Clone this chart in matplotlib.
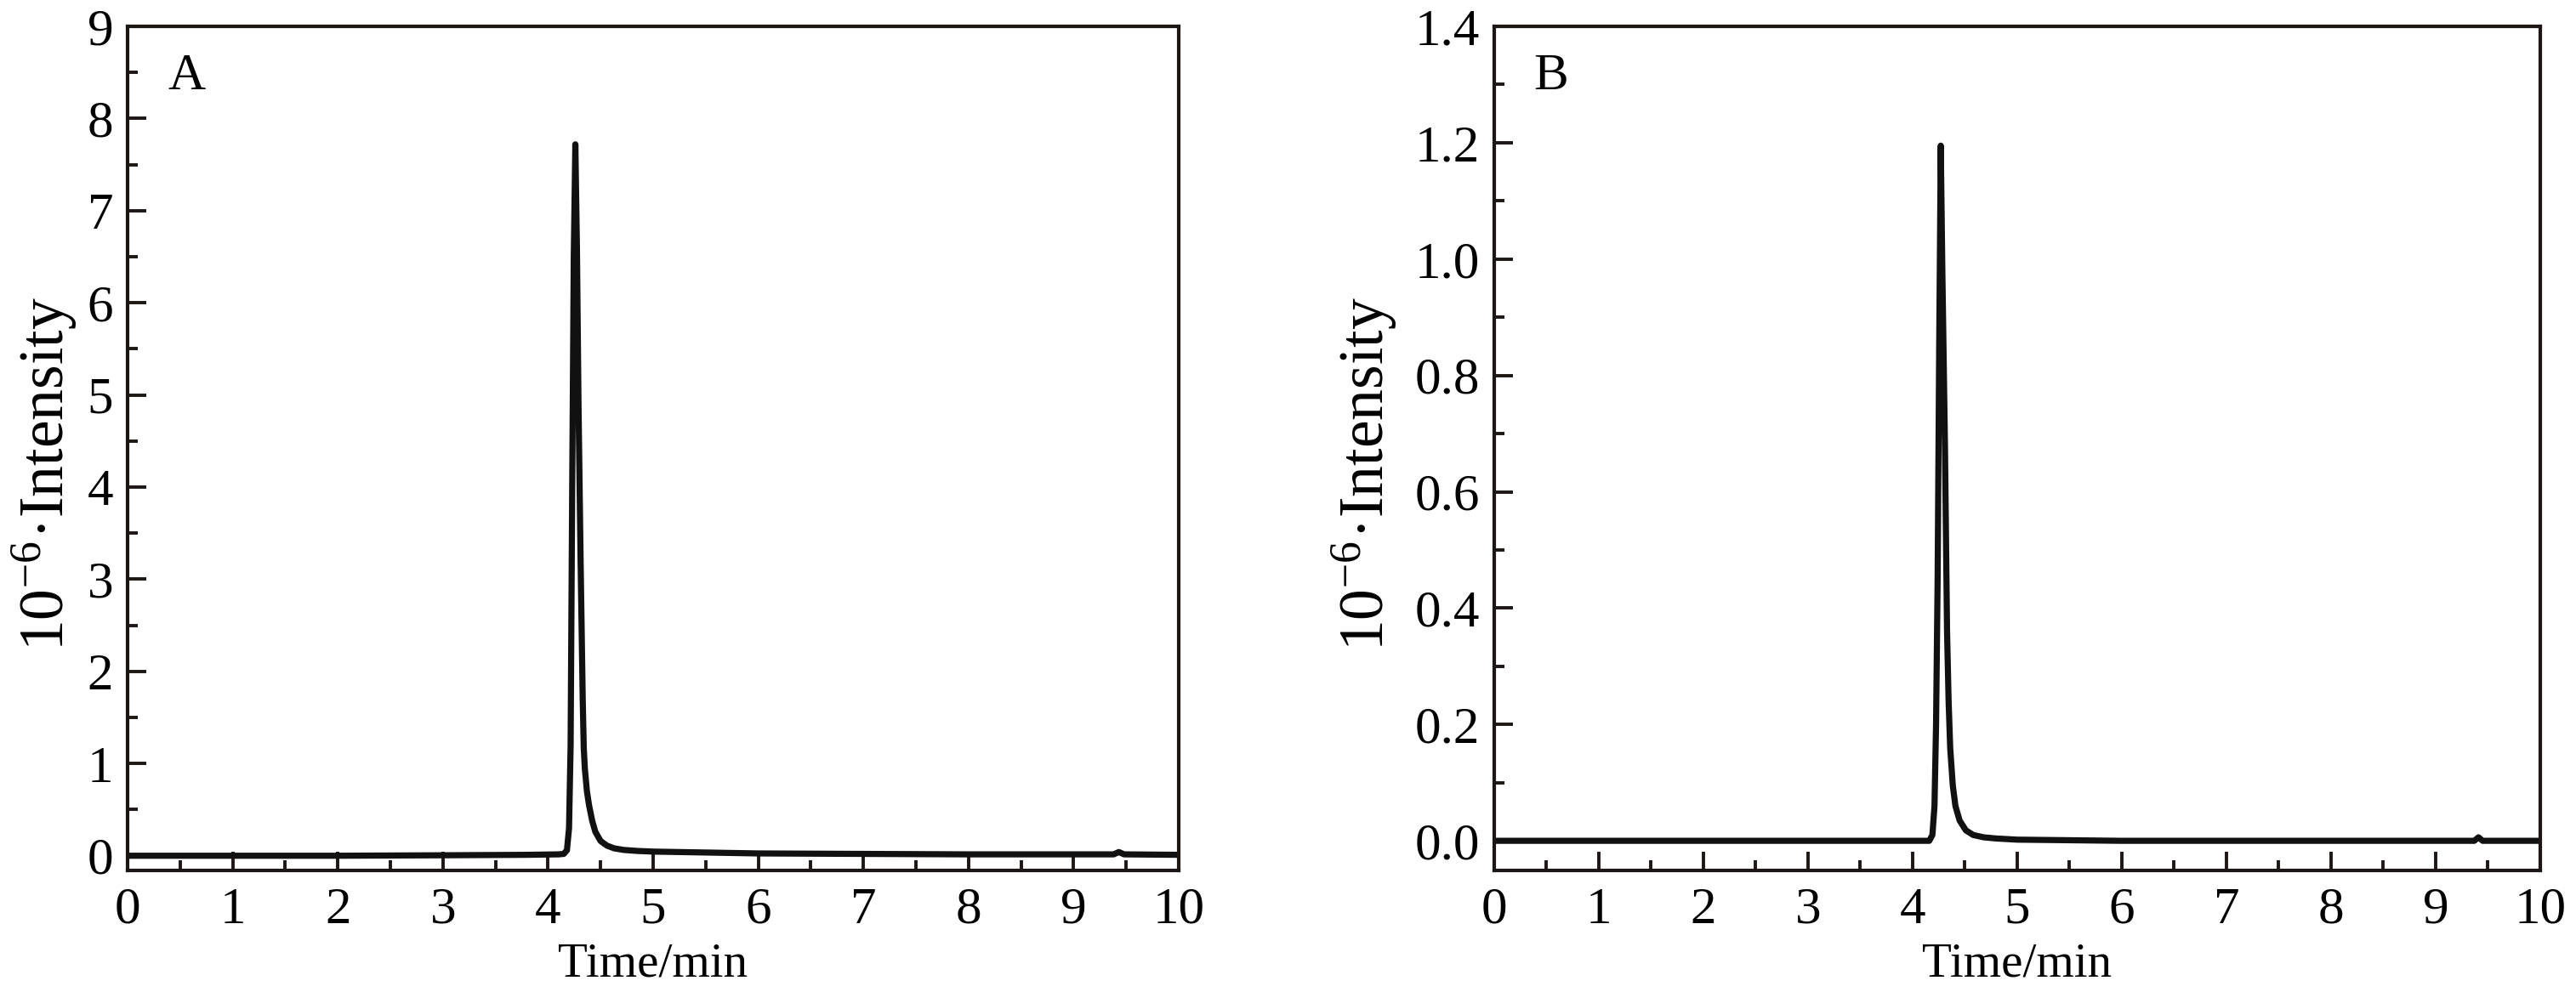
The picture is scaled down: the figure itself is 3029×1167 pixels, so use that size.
import matplotlib
matplotlib.use("Agg")
import matplotlib.pyplot as plt
from matplotlib.ticker import MultipleLocator, FormatStrFormatter

# --- chromatogram values --- #

time_a = [0.0, 1.0, 2.0, 3.0, 3.8, 4.1, 4.15, 4.18, 4.20, 4.215, 4.23, 4.245, 4.26,
          4.275, 4.29, 4.31, 4.33, 4.34, 4.35, 4.37, 4.39, 4.42, 4.45, 4.50, 4.56,
          4.63, 4.72, 4.85, 5.0, 5.5, 6.0, 7.0, 8.0, 9.0, 9.38, 9.43, 9.48, 10.0]
intensity_a = [0.0, 0.0, 0.0, 0.005, 0.01, 0.015, 0.02, 0.06, 0.3, 1.2, 4.0, 6.5, 7.72,
               6.6, 4.9, 3.2, 1.7, 1.17, 0.95, 0.70, 0.55, 0.38, 0.26, 0.16, 0.11,
               0.08, 0.063, 0.052, 0.045, 0.035, 0.025, 0.02, 0.015, 0.015, 0.015, 0.04, 0.015, 0.01]

time_b = [0.0, 1.0, 2.0, 3.0, 4.0, 4.16, 4.19, 4.21, 4.225, 4.24, 4.255, 4.27,
          4.285, 4.30, 4.31, 4.33, 4.345, 4.36, 4.385, 4.41, 4.45, 4.51, 4.58, 4.68,
          4.8, 5.0, 6.0, 7.0, 8.0, 9.0, 9.37, 9.41, 9.45, 10.0]
intensity_b = [0.0, 0.0, 0.0, 0.0, 0.0, 0.0, 0.01, 0.06, 0.2, 0.45, 0.85, 1.195,
               0.98, 0.80, 0.68, 0.36, 0.24, 0.16, 0.095, 0.06, 0.035, 0.018, 0.01, 0.006,
               0.004, 0.002, 0.0, 0.0, 0.0, 0.0, 0.0, 0.006, 0.0, 0.0]

panels = ["A", "B"]
ylims = [(-0.16, 9.0), (-0.051, 1.4)]
ymajor = [1, 0.2]
yminor = [0.5, 0.1]
yfmt = ["%d", "%.1f"]

# --- end of data --- #

plt.rcParams["font.family"] = ["Liberation Serif", "DejaVu Serif"]
plt.rcParams["mathtext.fontset"] = "stix"

ink = "#1c1614"


def draw_panel( ax, t, y, letter, ylim, major, minor, fmt, label_x ):
	"""! @brief one chromatogram panel """

	ax.plot( t, y, color="#111111", lw=5.2, solid_joinstyle="round", solid_capstyle="round" )
	ax.set_xlim( 0, 10 )
	ax.set_ylim( *ylim )
	ax.xaxis.set_major_locator( MultipleLocator( 1 ) )
	ax.xaxis.set_minor_locator( MultipleLocator( 0.5 ) )
	ax.yaxis.set_major_locator( MultipleLocator( major ) )
	ax.yaxis.set_minor_locator( MultipleLocator( minor ) )
	ax.yaxis.set_major_formatter( FormatStrFormatter( fmt ) )
	ax.tick_params( which="both", direction="in", top=False, right=False, color=ink, width=2.8, labelsize=44 )
	ax.tick_params( which="major", length=16 )
	ax.tick_params( which="minor", length=8.5 )
	ax.tick_params( axis="y", pad=12 )
	ax.tick_params( axis="x", pad=14 )
	for s in ax.spines.values():
		s.set_linewidth( 3.0 )
		s.set_color( ink )
	ax.set_xlabel( "Time/min", fontsize=41, labelpad=7 )
	ax.set_ylabel( "10$^{\\mathregular{-6}}$·Intensity", fontsize=53 )
	ax.yaxis.set_label_coords( label_x, 0.47 )
	ax.text( 0.038, 0.968, letter, transform=ax.transAxes, fontsize=44, ha="left", va="top" )


fig = plt.figure( figsize=(30.29, 11.67), dpi=100 )
ax_a = fig.add_axes( [0.0495, 0.1225, 0.4081, 0.8509] )
ax_b = fig.add_axes( [0.5800, 0.1225, 0.4061, 0.8509] )

draw_panel( ax_a, time_a, intensity_a, panels[0], ylims[0], ymajor[0], yminor[0], yfmt[0], -0.046 )
draw_panel( ax_b, time_b, intensity_b, panels[1], ylims[1], ymajor[1], yminor[1], yfmt[1], -0.091 )

fig.savefig( "out.png", dpi=100 )
